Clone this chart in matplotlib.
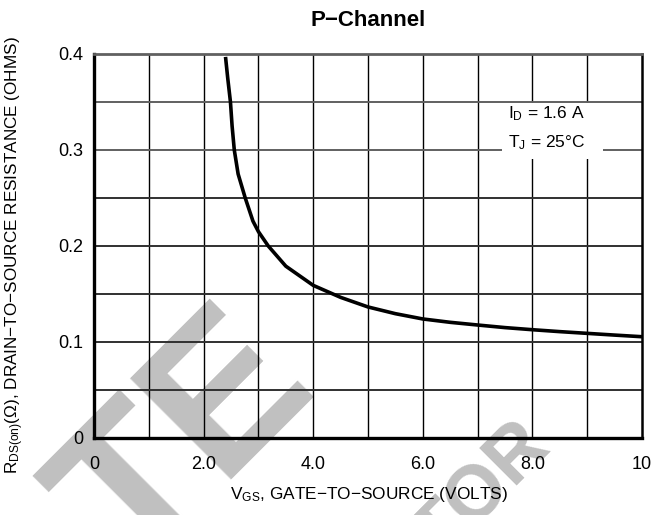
import matplotlib
matplotlib.use("Agg")
import matplotlib.pyplot as plt
from matplotlib.patches import Rectangle

plt.rcParams['font.family'] = ['Liberation Sans Narrow', 'Liberation Sans', 'DejaVu Sans']
plt.rcParams['mathtext.fontset'] = 'custom'
plt.rcParams['mathtext.rm'] = 'Liberation Sans'
plt.rcParams['mathtext.it'] = 'Liberation Sans'

# Data
vgs = [2.40, 2.44, 2.49, 2.52, 2.56, 2.63, 2.76, 2.90, 3.00, 3.18, 3.50, 4.00, 4.50, 5.00, 5.50, 6.00, 6.50, 7.00, 7.50, 8.00, 8.50, 9.00, 9.50, 10.0]
rds = [0.397, 0.375, 0.350, 0.325, 0.300, 0.275, 0.250, 0.226, 0.215, 0.200, 0.179, 0.159, 0.1465, 0.1365, 0.1295, 0.124, 0.1205, 0.1177, 0.115, 0.1128, 0.1108, 0.109, 0.1072, 0.1055]

xticks = [0, 2, 4, 6, 8, 10]
xticklabels = ["0", "2.0", "4.0", "6.0", "8.0", "10"]
yticks = [0, 0.1, 0.2, 0.3, 0.4]
yticklabels = ["0", "0.1", "0.2", "0.3", "0.4"]

title = "P\u2212Channel"
xlabel = "V$_\\mathregular{GS}$, GATE\u2212TO\u2212SOURCE (VOLTS)"
ylabel = "R$_\\mathregular{DS(on)}$(\u03a9), DRAIN\u2212TO\u2212SOURCE RESISTANCE (OHMS)"
note1 = "I$_\\mathregular{D}$ = 1.6 A"
note2 = "T$_\\mathregular{J}$ = 25\u00b0C"

fig = plt.figure(figsize=(6.63, 5.15), dpi=100)
ax = fig.add_axes([94/663, 1-438/515, 548/663, 384/515])
ax.set_facecolor('none')

# watermark
wm = '#c0c0c0'
fig.text(188/663, 1-445/515, "TE", rotation=45, fontsize=150, color=wm,
         fontweight='bold', ha='center', va='center', zorder=-5)
fig.text(482/663, 1-492/515, "TOR", rotation=45, fontsize=55, color=wm,
         fontweight='bold', ha='center', va='center', zorder=-5)

ax.set_xlim(0, 10)
ax.set_ylim(0, 0.4)

for xv in range(1, 10):
    ax.axvline(xv, color='black', lw=1.0, zorder=1)
for yv in [0.05, 0.1, 0.15, 0.2, 0.25, 0.3, 0.35]:
    c = '#606060' if yv > 0.27 else '#303030'
    ax.axhline(yv, color=c, lw=1.4, zorder=1)

ax.add_patch(Rectangle((7.45, 0.291), 1.84, 0.058, facecolor='white',
                       edgecolor='none', zorder=2))
ax.text(7.55, 0.3375, note1, fontsize=12.5, ha='left', va='center', zorder=3)
ax.text(7.55, 0.308, note2, fontsize=12.5, ha='left', va='center', zorder=3)

ax.plot(vgs, rds, color='black', lw=2.6, solid_capstyle='butt',
        solid_joinstyle='round', zorder=4)

ax.set_xticks(xticks)
ax.set_xticklabels(xticklabels)
ax.set_yticks(yticks)
ax.set_yticklabels(yticklabels)
ax.tick_params(axis='both', length=0, labelsize=13)
ax.tick_params(axis='x', pad=13)
ax.tick_params(axis='y', pad=8)

for s in ['left', 'bottom']:
    ax.spines[s].set_linewidth(2.4)
    ax.spines[s].set_color('black')
ax.spines['top'].set_linewidth(2.0)
ax.spines['top'].set_color('#606060')
ax.spines['right'].set_linewidth(1.8)
ax.spines['right'].set_color('black')

fig.text(368/663, 1-20/515, title, fontsize=16, fontweight='bold',
         ha='center', va='center')
fig.text(369/663, 1-494/515, xlabel, fontsize=12.4, ha='center', va='center')
fig.text(15/663, 1-255/515, ylabel, fontsize=12.3, rotation=90,
         ha='center', va='center')

fig.savefig('out.png', dpi=100)
